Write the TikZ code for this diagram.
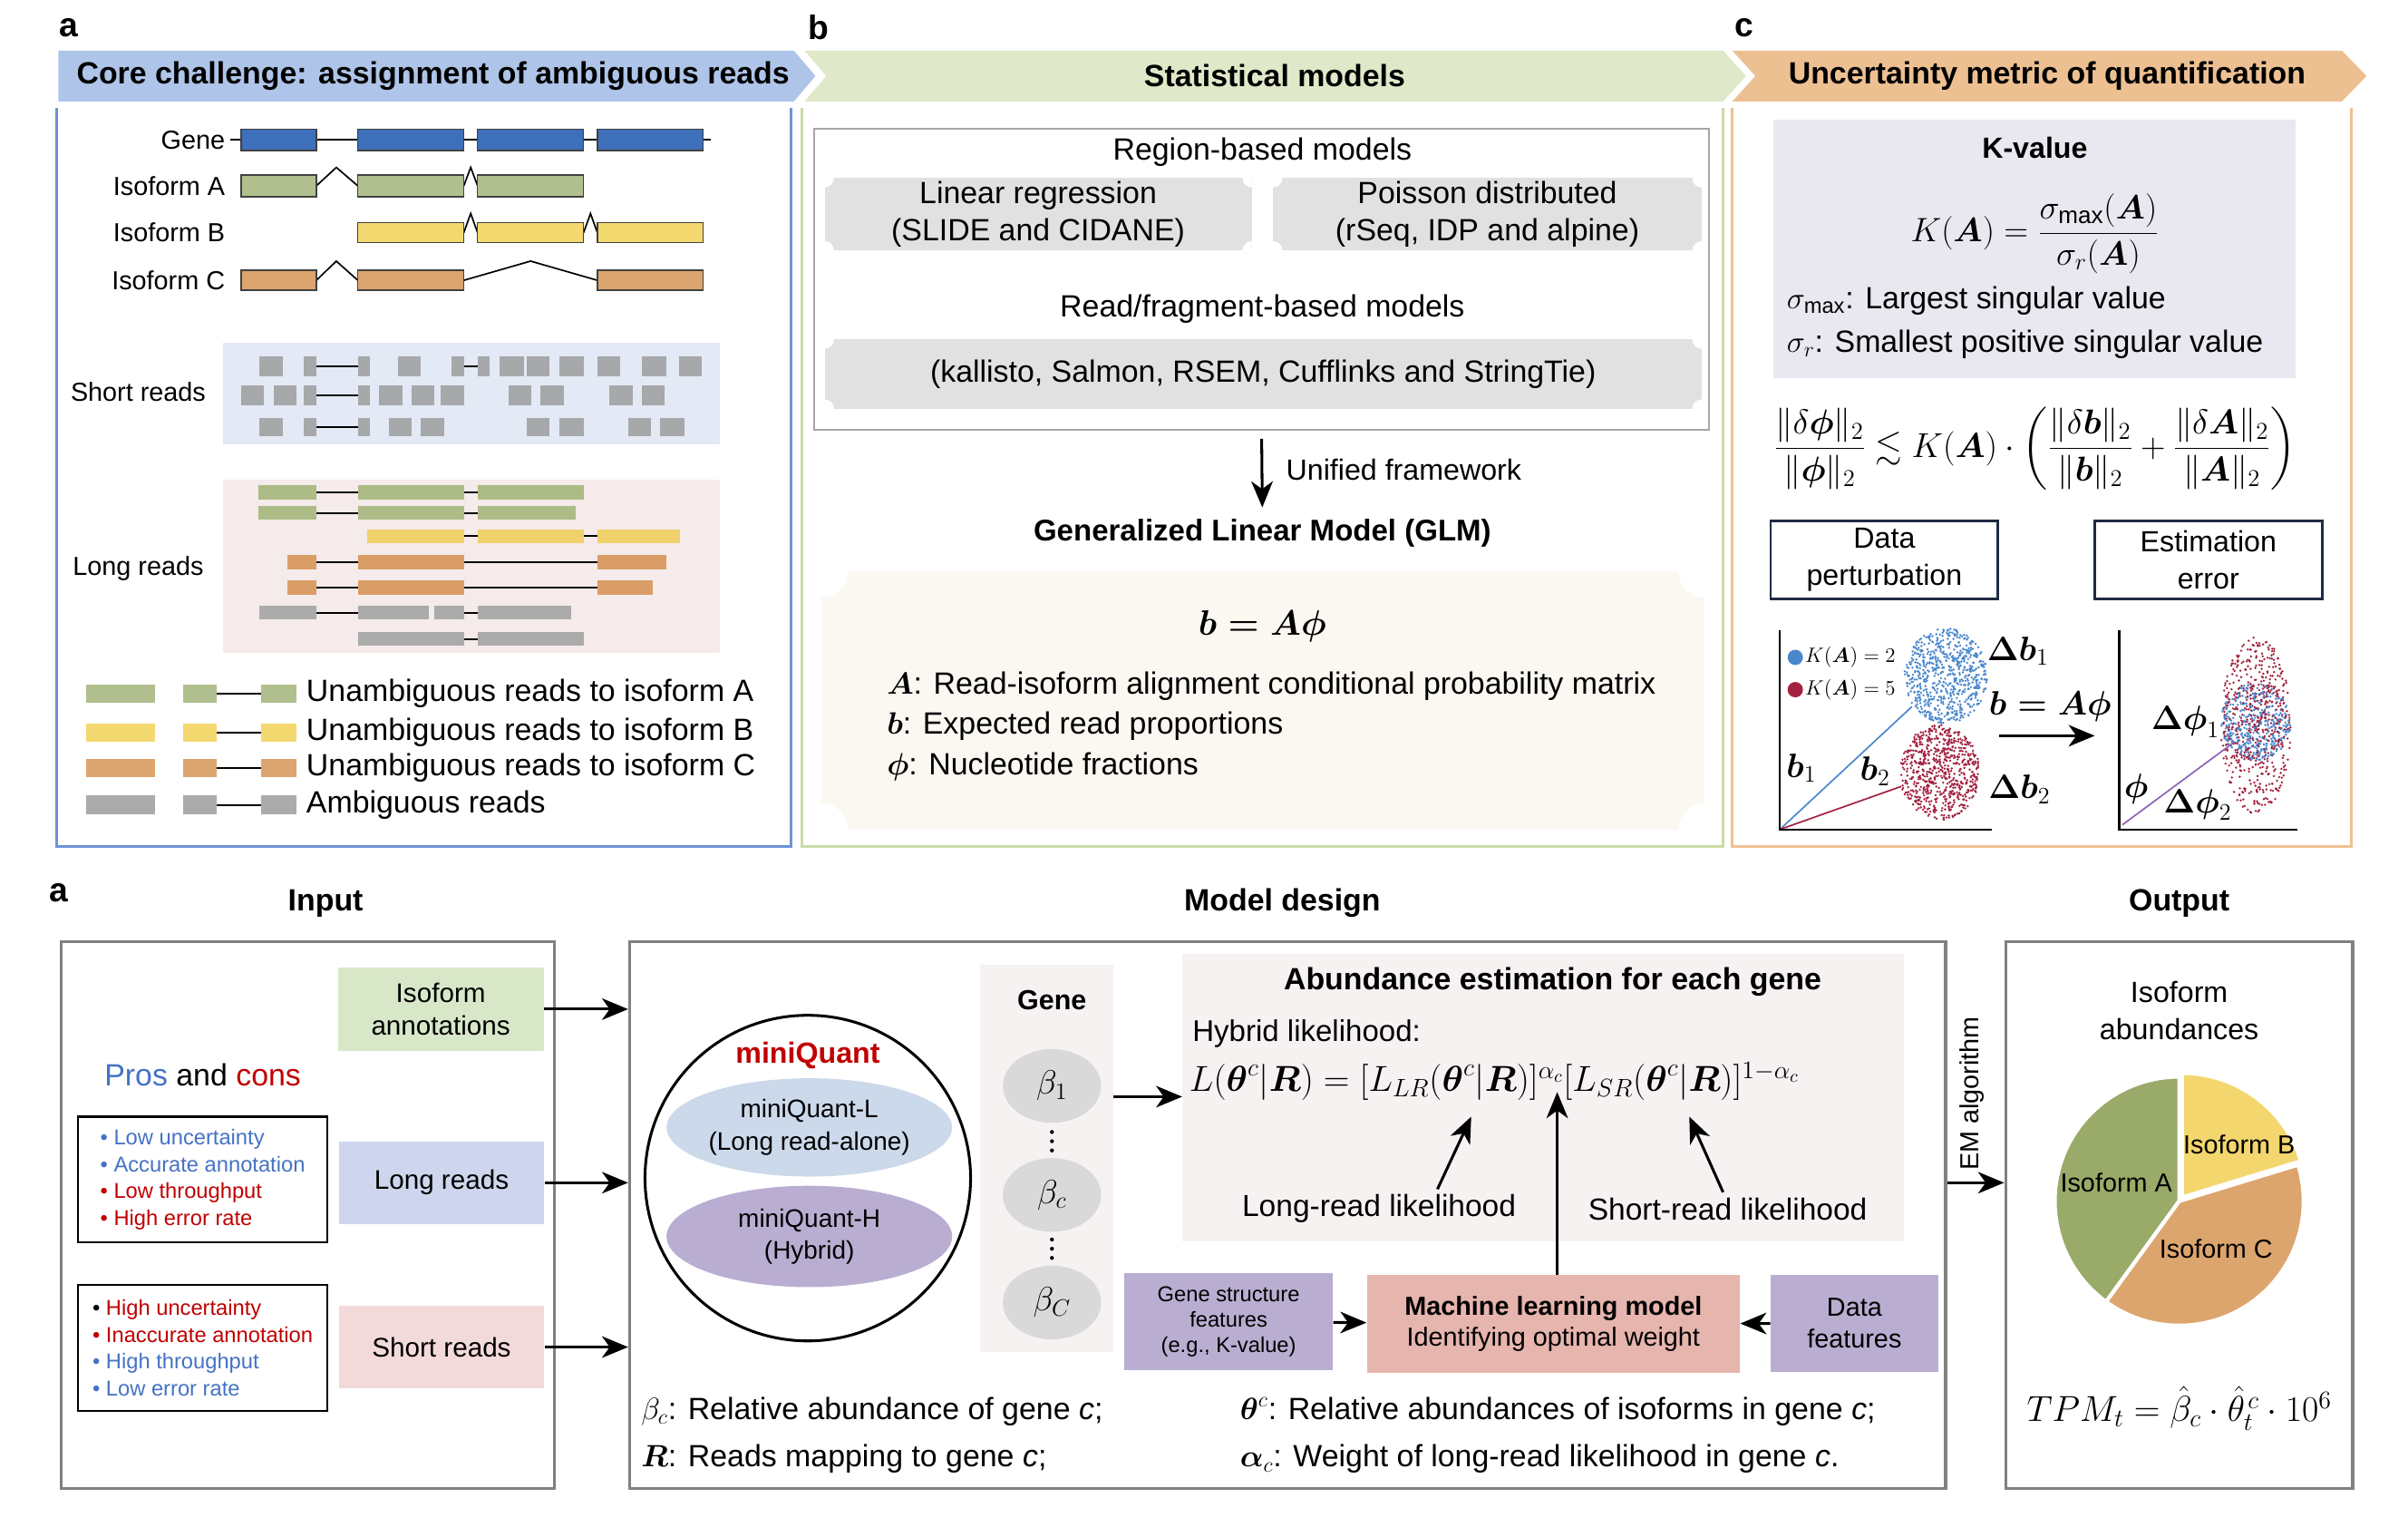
\RequirePackage{fix-cm}
\documentclass[tikz,border=0pt]{standalone}
\usepackage{amsmath,amssymb}
\usepackage{fontspec}
\setmainfont{Liberation Sans}
\usetikzlibrary{arrows.meta,shapes.geometric}

\definecolor{chevA}{HTML}{AEC4E8}
\definecolor{chevB}{HTML}{DFE8C8}
\definecolor{chevC}{HTML}{EDC092}
\definecolor{frameA}{HTML}{6E93D6}
\definecolor{frameB}{HTML}{CADCA5}
\definecolor{frameC}{HTML}{EDC092}
\definecolor{geneblue}{HTML}{3E6FBA}
\definecolor{exA}{HTML}{B1BF8F}
\definecolor{exB}{HTML}{F4D870}
\definecolor{exC}{HTML}{DCA46E}
\definecolor{sgray}{HTML}{A6A8AA}
\definecolor{lgA}{HTML}{ADBB86}
\definecolor{lgB}{HTML}{F1D16B}
\definecolor{lgC}{HTML}{DA9D66}
\definecolor{lgray}{HTML}{ABABAB}
\definecolor{shortbg}{HTML}{E3E9F5}
\definecolor{longbg}{HTML}{F5EBEA}
\definecolor{plgray}{HTML}{E1E1E1}
\definecolor{cream}{HTML}{FBF8F2}
\definecolor{kboxc}{HTML}{E9E7EF}
\definecolor{navy}{HTML}{1F2A44}
\definecolor{kblue}{HTML}{4A88CC}
\definecolor{kred}{HTML}{A3223F}
\definecolor{kpurple}{HTML}{8E63B5}
\definecolor{annot}{HTML}{D9E7C9}
\definecolor{longin}{HTML}{CDD6EC}
\definecolor{shortin}{HTML}{F3DADA}
\definecolor{prosblue}{HTML}{4472C4}
\definecolor{conred}{HTML}{C00000}
\definecolor{mqLc}{HTML}{CCD9EA}
\definecolor{mqHc}{HTML}{B9AED1}
\definecolor{genebg}{HTML}{F7F2F2}
\definecolor{betag}{HTML}{D9D9D9}
\definecolor{mlred}{HTML}{E6B5AE}
\definecolor{featc}{HTML}{B9AED1}
\definecolor{pieA}{HTML}{9AAA69}
\definecolor{pieB}{HTML}{F3D76E}
\definecolor{pieC}{HTML}{DDA56E}

\newcommand{\fsz}[2]{\fontsize{#1}{#2}\selectfont}

% one long read: mid-y, colour, segments, introns
\newcommand{\lrow}[4]{%
  \foreach \a/\b in {#4} \draw[rline] (\a,#1) -- (\b,#1);
  \foreach \a/\b in {#3} \fill[#2] (\a,#1-4.5) rectangle (\b,#1+4.5);}

% scatter cloud: cx, cy, rx, ry, colour, count
\newcommand{\cloud}[6]{%
  \foreach \k in {1,...,#6}{
    \pgfmathsetmacro\ang{360*rnd}
    \pgfmathsetmacro\rad{sqrt(rnd)}
    \fill[#5] ({#1+#3*\rad*cos(\ang)},{#2+#4*\rad*sin(\ang)}) circle (0.8);
  }}

\tikzset{
  plab/.style={font=\bfseries\fsz{22}{26}},
  hdr/.style={font=\bfseries\fsz{20}{24}},
  lbl/.style={font=\fsz{17}{20}},
  body/.style={font=\fsz{20}{24}},
  mlab/.style={font=\fsz{22}{26}, inner sep=1pt},
  exon/.style={draw=black!75, line width=0.8pt},
  intr/.style={line width=1pt},
  rline/.style={line width=1.3pt},
  arr/.style={-{Stealth[length=17pt,width=14pt,inset=5pt]}, line width=1.8pt},
  notched/.style={path picture={
    \foreach \cn in {north west,north east,south west,south east}
      \fill[white] (path picture bounding box.\cn) circle (#1);}},
  plaque/.style={fill=plgray, inner sep=0pt, align=center, body},
  panelbox/.style={draw=gray, line width=2pt, inner sep=0pt},
  navybox/.style={draw=navy, line width=1.6pt, minimum width=148pt,
    minimum height=51pt, align=center, font=\fsz{19}{24}, inner sep=0pt},
  inbox/.style={minimum width=134pt, minimum height=54pt, align=center,
    font=\fsz{17.5}{21}, inner sep=0pt},
  bullets/.style={draw, line width=1.3pt, minimum width=162pt,
    minimum height=82pt, align=left, font=\fsz{14}{17.5}, inner sep=0pt},
  featbox/.style={fill=featc, align=center, inner sep=0pt},
  betanode/.style={ellipse, fill=betag, minimum width=64pt,
    minimum height=48pt, inner sep=0pt, font=\fsz{22}{26}},
  defn/.style={font=\fsz{20}{24}, anchor=west}
}

\begin{document}
\begin{tikzpicture}[x=1pt, y=-1pt]
\useasboundingbox (0,0) rectangle (1568,994);
\pgfmathsetseed{12}

% ===== top: panel labels and headers
\node[plab] (la) at (45,18) {a};
\node[plab] (lb) at (533,18) {b};
\node[plab] (lc) at (1136,18) {c};

\fill[chevA] (38,33) -- (517,33) -- (531,49.5) -- (517,66) -- (38,66) -- cycle;
\fill[chevB] (524,33) -- (1122,33) -- (1137,49.5) -- (1122,66) -- (524,66) -- (538,49.5) -- cycle;
\fill[chevC] (1128,33) -- (1525,33) -- (1541,49.5) -- (1525,66) -- (1128,66) -- (1143,49.5) -- cycle;
\node[hdr] (ta) at (282,49.5) {Core challenge: assignment of ambiguous reads};
\node[hdr] (tb) at (830,49.5) {Statistical models};
\node[hdr] (tc) at (1333,49.5) {Uncertainty metric of quantification};

\draw[line width=1.8pt, frameA] (37,70) -- (37,551) -- (515,551) -- (515,70);
\draw[line width=1.8pt, frameB] (522,70) -- (522,551) -- (1122,551) -- (1122,70);
\draw[line width=1.8pt, frameC] (1128,70) -- (1128,551) -- (1531,551) -- (1531,70);

% ===== panel a: gene and isoforms
\node[lbl, anchor=east] (gene) at (150,91) {Gene};
\draw[intr] (150,91) -- (463,91);
\foreach \a/\b in {157/206,233/302,311/380,389/458}
  \draw[exon, fill=geneblue] (\a,84) rectangle (\b,98);

\node[lbl, anchor=east] (isoA) at (150,121) {Isoform A};
\draw[intr] (206,121) -- (219,109) -- (233,121) (302,121) -- (306.5,109) -- (311,121);
\foreach \a/\b in {157/206,233/302,311/380}
  \draw[exon, fill=exA] (\a,114) rectangle (\b,128);

\node[lbl, anchor=east] (isoB) at (150,151.5) {Isoform B};
\draw[intr] (302,151.5) -- (306.5,139) -- (311,151.5) (380,151.5) -- (384.5,139) -- (389,151.5);
\foreach \a/\b in {233/302,311/380,389/458}
  \draw[exon, fill=exB] (\a,145) rectangle (\b,158);

\node[lbl, anchor=east] (isoC) at (150,182.5) {Isoform C};
\draw[intr] (206,182.5) -- (219,170) -- (233,182.5) (302,182.5) -- (345.5,170) -- (389,182.5);
\foreach \a/\b in {157/206,233/302,389/458}
  \draw[exon, fill=exC] (\a,176) rectangle (\b,189);

% short reads
\node[fill=shortbg, minimum width=324pt, minimum height=66pt, inner sep=0pt] (srbox) at (307,256) {};
\node[lbl] (srlab) at (90,255) {Short reads};
\foreach \a/\b in {169/184,198/206,233/241,259/274,294/302,311/319,325/341,343/358,364/380,389/404,418/434,442/457}
  \fill[sgray] (\a,232) rectangle (\b,245);
\foreach \a/\b in {157/172,178/193,198/206,233/241,247/262,268/283,287/302,331/346,352/367,397/412,418/433}
  \fill[sgray] (\a,251) rectangle (\b,264);
\foreach \a/\b in {169/184,198/206,233/241,253/268,274/289,343/358,364/380,409/424,430/446}
  \fill[sgray] (\a,272) rectangle (\b,284);
\draw[rline] (206,238.5) -- (233,238.5) (302,238.5) -- (311,238.5)
  (206,257.5) -- (233,257.5) (206,278) -- (233,278);

% long reads
\node[fill=longbg, minimum width=324pt, minimum height=113pt, inner sep=0pt] (lrbox) at (307,368.5) {};
\node[lbl] (lrlab) at (90,370) {Long reads};
\lrow{320.5}{lgA}{168/206,233/302,311/380}{206/233,302/311}
\lrow{334}{lgA}{168/206,233/302,311/375}{206/233,302/311}
\lrow{349}{lgB}{239/302,311/380,389/443}{302/311,380/389}
\lrow{366}{lgC}{187/206,233/302,389/434}{206/233,302/389}
\lrow{382.5}{lgC}{187/206,233/302,389/425}{206/233,302/389}
\lrow{399}{lgray}{169/206,233/279,283/302,311/372}{206/233,302/311}
\lrow{416}{lgray}{233/302,311/380}{302/311}

% legend
\foreach \i/\y/\cl/\txt in {1/451.5/exA/Unambiguous reads to isoform A,
    2/477/exB/Unambiguous reads to isoform B,
    3/500/exC/Unambiguous reads to isoform C,
    4/524/lgray/Ambiguous reads}{
  \fill[\cl] (56,\y-6) rectangle (101,\y+6);
  \draw[rline] (141,\y) -- (170,\y);
  \fill[\cl] (119,\y-6) rectangle (141,\y+6);
  \fill[\cl] (170,\y-6) rectangle (193,\y+6);
  \node[body, anchor=west] (leg\i) at (196,\y) {\txt};
}

% ===== panel b: statistical models
\node[panelbox, draw=gray!70, line width=1.2pt, minimum width=583pt, minimum height=196pt] (regbox) at (821.5,182) {};
\node[body] (regt) at (822,99) {Region-based models};
\node[plaque, notched=6, minimum width=278pt, minimum height=47pt] (linreg) at (676,139.5) {Linear regression\\(SLIDE and CIDANE)};
\node[plaque, notched=6, minimum width=279pt, minimum height=47pt] (poisson) at (968.5,139.5) {Poisson distributed\\(rSeq, IDP and alpine)};
\node[body] (readt) at (822,201) {Read/fragment-based models};
\node[plaque, notched=6, minimum width=571pt, minimum height=45pt] (readb) at (822.5,243.5) {(kallisto, Salmon, RSEM, Cufflinks and StringTie)};

\node[font=\bfseries\fsz{19.5}{23}] (glmt) at (822,347) {Generalized Linear Model (GLM)};
\draw[arr, shorten <=5pt, shorten >=4pt] (regbox.south) -- (glmt.north);
\node[font=\fsz{19}{23}, anchor=west] (unif) at (834,306) {Unified framework};

\node[fill=cream, notched=17, minimum width=575pt, minimum height=168pt, inner sep=0pt] (glm) at (822.5,456) {};
\node[font=\fsz{23}{27}] (beq) at (822,408) {$\boldsymbol{b = A\phi}$};
\node[body, anchor=west] (defA) at (574,447) {$\boldsymbol A$: Read-isoform alignment conditional probability matrix};
\node[body, anchor=west] (defb) at (574,473) {$\boldsymbol b$: Expected read proportions};
\node[body, anchor=west] (defphi) at (574,499) {$\boldsymbol\phi$: Nucleotide fractions};

% ===== panel c: K-value
\node[fill=kboxc, minimum width=340pt, minimum height=168pt, inner sep=0pt] (kbox) at (1325,162) {};
\node[font=\bfseries\fsz{19}{23}] (kt) at (1325,96) {K-value};
\node[font=\fsz{22}{26}] (kf) at (1325,152) {$K(\boldsymbol A) = \dfrac{\sigma_{\max}(\boldsymbol A)}{\sigma_r(\boldsymbol A)}$};
\node[body, anchor=west] (smax) at (1160,196) {$\sigma_{\max}$: Largest singular value};
\node[body, anchor=west] (smin) at (1160,224) {$\sigma_r$: Smallest positive singular value};
\node[font=\fsz{22.5}{27}] (ineq) at (1325,292) {$\dfrac{\|\delta\boldsymbol\phi\|_2}{\|\boldsymbol\phi\|_2} \lesssim K(\boldsymbol A)\cdot\left(\dfrac{\|\delta\boldsymbol b\|_2}{\|\boldsymbol b\|_2}+\dfrac{\|\delta\boldsymbol A\|_2}{\|\boldsymbol A\|_2}\right)$};
\node[navybox] (pert) at (1227,364.5) {Data\\perturbation};
\node[navybox] (esterr) at (1438,364.5) {Estimation\\error};

% left scatter
\cloud{1267}{440}{27}{31}{kblue}{700}
\cloud{1263}{503}{26}{31}{kred}{700}
\draw[kblue, line width=1pt] (1159,540) -- (1245,460);
\draw[kred, line width=1pt] (1159,540) -- (1238,512);
\draw[line width=1.3pt] (1159,410) -- (1159,540) -- (1297,540);
\fill[kblue] (1169,428) circle (5);
\fill[kred] (1169,449) circle (5);
\node[font=\fsz{13.5}{16}, anchor=west] (kv2) at (1172,428) {$K(\boldsymbol A) = 2$};
\node[font=\fsz{13.5}{16}, anchor=west] (kv5) at (1172,449) {$K(\boldsymbol A) = 5$};
\node[mlab] (db1) at (1314,424) {$\boldsymbol{\Delta b}_1$};
\node[mlab] (db2) at (1315,514) {$\boldsymbol{\Delta b}_2$};
\node[mlab] (bv1) at (1173,500) {$\boldsymbol b_1$};
\node[mlab] (bv2) at (1221,502) {$\boldsymbol b_2$};
\node[mlab] (bap) at (1335,460) {$\boldsymbol{b = A\phi}$};
\coordinate (sa1) at (1302,479);
\coordinate (sa2) at (1364,479);
\draw[arr] (sa1) -- (sa2);

% right scatter
\cloud{1469}{472}{23}{58}{kred}{500}
\cloud{1469}{470}{23}{25}{kblue}{400}
\cloud{1469}{470}{22}{26}{kred}{110}
\draw[kpurple, line width=1pt] (1382,537) -- (1455,483);
\draw[line width=1.3pt] (1380,410) -- (1380,540) -- (1496,540);
\node[mlab] (dp1) at (1423,470) {$\boldsymbol{\Delta\phi}_1$};
\node[mlab] (phv) at (1391,514) {$\boldsymbol\phi$};
\node[mlab] (dp2) at (1431,524) {$\boldsymbol{\Delta\phi}_2$};

% ===== bottom: miniQuant overview
\node[plab] (la2) at (38,581) {a};
\node[hdr] (hin) at (212,588) {Input};
\node[hdr] (hmd) at (835,588) {Model design};
\node[hdr] (hout) at (1419,588) {Output};

\node[panelbox, minimum width=321pt, minimum height=356pt] (input) at (200.5,791) {};
\node[panelbox, minimum width=857pt, minimum height=356pt] (model) at (838.5,791) {};
\node[panelbox, minimum width=226pt, minimum height=356pt] (output) at (1419,791) {};

% input
\node[inbox, fill=annot] (annot) at (287,657) {Isoform\\annotations};
\node[inbox, fill=longin] (longr) at (287.5,770) {Long reads};
\node[inbox, fill=shortin] (shortr) at (287.5,877) {Short reads};
\node[font=\fsz{20}{24}] (proscons) at (132,700) {\textcolor{prosblue}{Pros} and \textcolor{conred}{cons}};
\node[bullets] (proslong) at (132,768) {\textcolor{prosblue}{\textbullet\ Low uncertainty}\\
  \textcolor{prosblue}{\textbullet\ Accurate annotation}\\
  \textcolor{conred}{\textbullet\ Low throughput}\\
  \textcolor{conred}{\textbullet\ High error rate}};
\node[bullets] (prosshort) at (132,877.5) {\textbullet\ \textcolor{conred}{High uncertainty}\\
  \textcolor{conred}{\textbullet\ Inaccurate annotation}\\
  \textcolor{prosblue}{\textbullet\ High throughput}\\
  \textcolor{prosblue}{\textbullet\ Low error rate}};
\draw[arr] (annot.east) -- (annot.east -| model.west);
\draw[arr] (longr.east) -- (longr.east -| model.west);
\draw[arr] (shortr.east) -- (shortr.east -| model.west);

% model design
\node[circle, draw, line width=1.8pt, minimum size=212pt, inner sep=0pt] (mq) at (526,767) {};
\node[font=\bfseries\fsz{19}{23}, text=conred] (mqt) at (526,687) {miniQuant};
\node[ellipse, fill=mqLc, minimum width=186pt, minimum height=64pt, align=center,
  font=\fsz{16.5}{21}, inner sep=0pt] (mqL) at (527,734) {miniQuant-L\\(Long read-alone)};
\node[ellipse, fill=mqHc, minimum width=186pt, minimum height=66pt, align=center,
  font=\fsz{16.5}{21}, inner sep=0pt] (mqH) at (527,805) {miniQuant-H\\(Hybrid)};

\node[fill=genebg, minimum width=87pt, minimum height=252pt, inner sep=0pt] (genecol) at (681.5,754) {};
\node[font=\bfseries\fsz{18}{22}] (genet) at (685,651) {Gene};
\node[betanode] (beta1) at (685,707) {$\beta_1$};
\node[betanode] (betac) at (685,778) {$\beta_c$};
\node[betanode] (betaC) at (685,848) {$\beta_C$};
\foreach \yd in {737,743,749,807,813,819}
  \fill (685,\yd) circle (1.3);

\node[fill=genebg, minimum width=470pt, minimum height=187pt, inner sep=0pt] (abund) at (1005,714.5) {};
\coordinate (gy) at (700,714);
\draw[arr] (genecol.east |- gy) -- (abund.west |- gy);
\node[font=\bfseries\fsz{20}{24}] (abt) at (1011,639) {Abundance estimation for each gene};
\node[font=\fsz{19.5}{23}, anchor=west] (hybt) at (773,673) {Hybrid likelihood:};
\node[font=\fsz{23.5}{28}, anchor=west] (hyb) at (771,704) {$L(\boldsymbol\theta^c|\boldsymbol R) = [L_{LR}(\boldsymbol\theta^c|\boldsymbol R)]^{\alpha_c}[L_{SR}(\boldsymbol\theta^c|\boldsymbol R)]^{1-\alpha_c}$};
\node[font=\fsz{19.8}{23}] (lrlik) at (898,787) {Long-read likelihood};
\node[font=\fsz{19.8}{23}] (srlik) at (1125,787) {Short-read likelihood};
\coordinate (lrtip) at (958,727);
\coordinate (srtip) at (1100,727);
\coordinate (alphatip) at (1014,711);
\draw[arr] ([xshift=38pt]lrlik.north) -- (lrtip);
\draw[arr] ([xshift=-3pt]srlik.north) -- (srtip);

\node[featbox, minimum width=136pt, minimum height=63pt, font=\fsz{14}{16.5}] (gsf) at (800,860.5) {Gene structure\\features\\(e.g., K-value)};
\node[fill=mlred, minimum width=243pt, minimum height=64pt, align=center,
  font=\fsz{17}{20}, inner sep=0pt] (ml) at (1011.5,862) {\textbf{Machine learning model}\\Identifying optimal weight};
\node[featbox, minimum width=109pt, minimum height=63pt, font=\fsz{17}{21}] (dfeat) at (1207.5,861.5) {Data\\features};
\draw[arr] (gsf) -- (ml);
\draw[arr] (dfeat) -- (ml);
\draw[arr] (ml.north -| alphatip) -- (alphatip);

\node[defn] (dbeta) at (414,919) {$\beta_c$: Relative abundance of gene \textit{c};};
\node[defn] (dR) at (414,950) {$\boldsymbol R$: Reads mapping to gene \textit{c};};
\node[defn] (dtheta) at (804,919) {$\boldsymbol\theta^c$: Relative abundances of isoforms in gene \textit{c};};
\node[defn] (dalpha) at (804,950) {$\boldsymbol\alpha_c$: Weight of long-read likelihood in gene \textit{c}.};

% EM step to output
\node[font=\fsz{17}{20}, rotate=90] (em) at (1284,712) {EM algorithm};
\coordinate (emy) at (1280,770);
\draw[arr] (model.east |- emy) -- (output.west |- emy);

% output
\node[font=\fsz{19}{24}, align=center] (isoab) at (1419,658) {Isoform\\abundances};
\begin{scope}[shift={(1419,782)}, yscale=-1]
  \filldraw[pieA, draw=white, line width=2.5pt] (0,0) -- (90:81) arc[start angle=90, end angle=234, radius=81] -- cycle;
  \filldraw[pieC, draw=white, line width=2.5pt] (0,0) -- (-126:81) arc[start angle=-126, end angle=17, radius=81] -- cycle;
  \filldraw[pieB, draw=white, line width=2.5pt, shift={(53:3)}] (0,0) -- (17:81) arc[start angle=17, end angle=90, radius=81] -- cycle;
\end{scope}
\node[font=\fsz{17}{20}] (pB) at (1458,745) {Isoform B};
\node[font=\fsz{17}{20}] (pA) at (1378,770) {Isoform A};
\node[font=\fsz{17}{20}] (pC) at (1443,813) {Isoform C};
\node[font=\fsz{23.5}{28}] (tpm) at (1419,917) {$TPM_t = \hat\beta_c \cdot \hat{\theta}^{\hspace{2pt}c}_{t} \cdot 10^6$};

\end{tikzpicture}
\end{document}
